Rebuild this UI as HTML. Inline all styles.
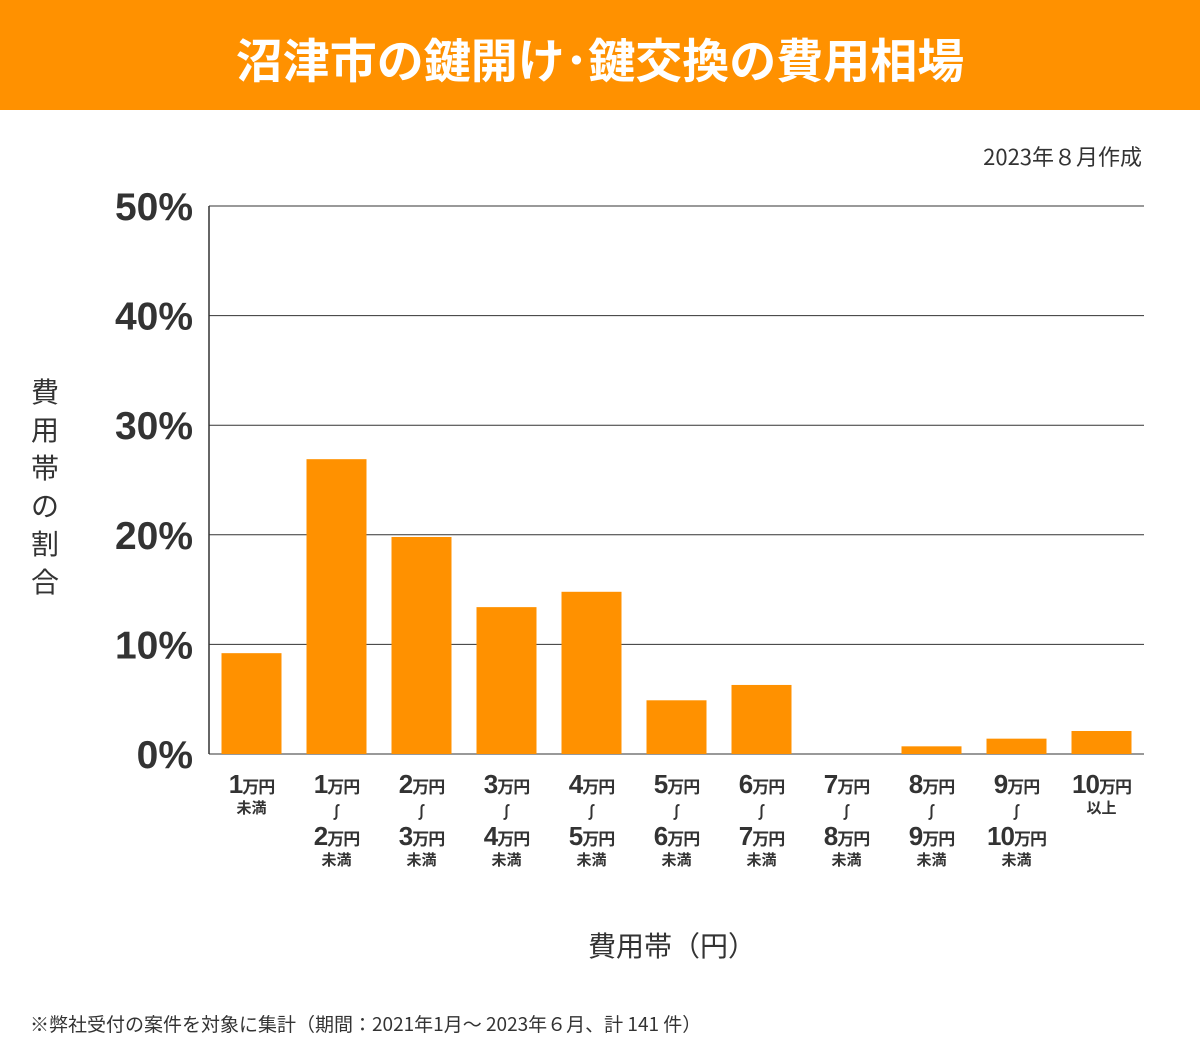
<!DOCTYPE html>
<html><head><meta charset="utf-8">
<style>
body{margin:0;width:1200px;height:1041px;background:#fff;font-family:"Liberation Sans","Noto Sans CJK JP",sans-serif;color:#333;position:relative;overflow:hidden}
.hdr{position:absolute;left:0;top:0;width:1200px;height:110px;background:#FF9100;color:#fff;font-weight:bold;font-size:47px;text-align:center;line-height:116px;font-family:"Noto Sans CJK JP",sans-serif}
.abs{position:absolute}
</style></head><body>
<div class="hdr">沼津市の鍵開け･鍵交換の費用相場</div>
<div class="abs" style="right:58px;top:140px;font-size:22px;font-family:'Noto Sans CJK JP',sans-serif">2023年８月作成</div>
<div class="abs" style="left:28px;top:372px;width:34px;font-size:28px;line-height:38px;text-align:center;font-family:'Noto Sans CJK JP',sans-serif">費<br>用<br>帯<br>の<br>割<br>合</div>
<div class="abs" style="left:588px;top:925px;font-size:28px;font-family:'Noto Sans CJK JP',sans-serif">費用帯（円）</div>
<div class="abs" style="left:30px;top:1010px;font-size:19px;font-family:'Noto Sans CJK JP',sans-serif">※弊社受付の案件を対象に集計（期間：2021年1月～ 2023年６月、計 141 件）</div>
<svg class="abs" style="left:0;top:0" width="1200" height="1041" id="chart"></svg>
<script>
const categories=[["1","未満"],["1","2","未満"],["2","3","未満"],["3","4","未満"],["4","5","未満"],["5","6","未満"],["6","7","未満"],["7","8","未満"],["8","9","未満"],["9","10","未満"],["10","以上"]];
const values=[9.2,26.9,19.8,13.4,14.8,4.9,6.3,0,0.7,1.4,2.1];
const ticks=[0,10,20,30,40,50];
const svg=document.getElementById('chart');
const NS='http://www.w3.org/2000/svg';
const x0=209,x1=1144,y0=754,yTop=206,max=50;
const y=v=>y0-(v/max)*(y0-yTop);
const slot=(x1-x0)/categories.length;
function mk(t,a){const e=document.createElementNS(NS,t);for(const k in a)e.setAttribute(k,a[k]);svg.appendChild(e);return e;}
ticks.forEach(t=>{
 const l=mk('line',{x1:x0,x2:x1,y1:y(t),y2:y(t),stroke:'#333','stroke-width':1});
 
 
 const tx=mk('text',{x:193,y:y(t)+14,'text-anchor':'end','font-size':39,'font-weight':'bold',fill:'#333'});
 tx.textContent=t+'%';
 
 
});
mk('line',{x1:x0,x2:x0,y1:yTop,y2:y0,stroke:'#333','stroke-width':1.5});
values.forEach((v,i)=>{
 const cx=x0+slot*(i+0.5);
 const r=mk('rect',{x:cx-30,y:y(v),width:60,height:y0-y(v),fill:'#FF9100'});
 
 
 const c=categories[i];
 const g=document.createElementNS(NS,'g');svg.appendChild(g);
 
 
 function num(n,yy){const t=document.createElementNS(NS,'text');t.setAttribute('x',cx);t.setAttribute('y',yy);t.setAttribute('text-anchor','middle');t.setAttribute('font-weight','bold');t.setAttribute('fill','#333');t.setAttribute('letter-spacing','-1');
  t.innerHTML='<tspan font-size="26">'+n+'</tspan><tspan font-size="17" font-family="Noto Sans CJK JP">万円</tspan>';g.appendChild(t);}
 function sm(s,yy,fs){const t=document.createElementNS(NS,'text');t.setAttribute('x',cx);t.setAttribute('y',yy);t.setAttribute('text-anchor','middle');t.setAttribute('font-weight','bold');t.setAttribute('fill','#333');t.setAttribute('font-size',fs);t.setAttribute('font-family','Noto Sans CJK JP');t.textContent=s;g.appendChild(t);}
 num(c[0],793);
 if(c.length===2){sm(c[1],813,15);}
 else{sm('∫',818,16);num(c[1],845);sm(c[2],865,15);}
});
</script>
</body></html>
